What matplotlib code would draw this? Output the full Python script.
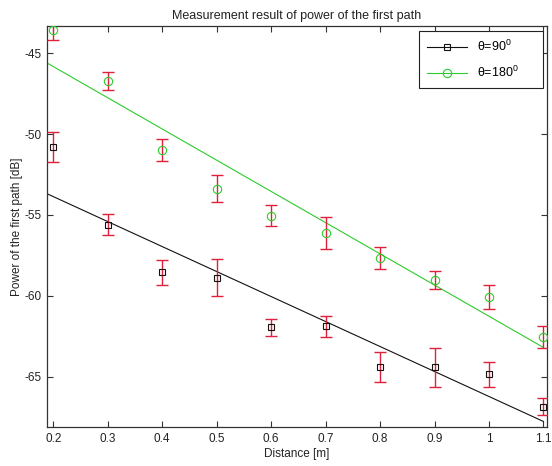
import numpy as np
import matplotlib
matplotlib.use("Agg")
import matplotlib.pyplot as plt
from matplotlib.lines import Line2D

plt.rcParams["font.family"] = ["Liberation Sans", "DejaVu Sans"]
plt.rcParams["mathtext.fontset"] = "custom"
plt.rcParams["mathtext.rm"] = "Liberation Sans"
plt.rcParams["axes.unicode_minus"] = False

# 数据:距离 (m),两组角度的第一径功率 (dB) 及误差
distance = [0.2, 0.3, 0.4, 0.5, 0.6, 0.7, 0.8, 0.9, 1.0, 1.1]
power_90 = [-50.79, -55.62, -58.55, -58.88, -61.96, -61.90, -64.38, -64.42, -64.86, -66.86]
err_90 = [0.92, 0.65, 0.78, 1.15, 0.54, 0.65, 0.93, 1.2, 0.77, 0.54]
power_180 = [-43.55, -46.71, -50.99, -53.37, -55.06, -56.12, -57.64, -59.01, -60.08, -62.56]
err_180 = [0.65, 0.55, 0.66, 0.83, 0.65, 0.98, 0.68, 0.55, 0.72, 0.70]

xticks = [0.2, 0.3, 0.4, 0.5, 0.6, 0.7, 0.8, 0.9, 1.0, 1.1]
xticklabels = ["0.2", "0.3", "0.4", "0.5", "0.6", "0.7", "0.8", "0.9", "1", "1.1"]
yticks = [-65, -60, -55, -50, -45]

BLACK = "#111111"
GREEN = "#2ccc2c"
RED = "#e0203a"
XLIM = (0.189, 1.106)
YLIM = (-68.14, -43.29)

fig = plt.figure(figsize=(5.52, 4.66), dpi=100)
ax = fig.add_axes([47.3 / 552, 1 - 427.3 / 466, 499.4 / 552, 401.6 / 466])

x = np.asarray(distance)
xfit = np.linspace(XLIM[0], 1.1, 50)
for ys, es, col, mk, ms in [(power_90, err_90, BLACK, "s", 4.6),
                             (power_180, err_180, GREEN, "o", 6.0)]:
    ys = np.asarray(ys)
    k, b = np.polyfit(x, ys, 1)                      # 线性拟合
    ax.plot(xfit, k * xfit + b, color=col, lw=0.8, zorder=2)
    ax.errorbar(x, ys, yerr=es, fmt="none", ecolor=RED, elinewidth=1.0,
                capsize=4.4, capthick=1.0, zorder=3)
    ax.plot(x, ys, ls="none", marker=mk, ms=ms, mfc="none", mec=col, mew=0.8, zorder=4)

ax.set_xlim(*XLIM)
ax.set_ylim(*YLIM)
ax.set_xticks(xticks)
ax.set_xticklabels(xticklabels)
ax.set_yticks(yticks)
ax.tick_params(direction="in", top=True, right=True, length=4, width=0.8,
               labelsize=8.5, colors="#333333", labelcolor="#222222", pad=4)
for s in ax.spines.values():
    s.set_color("#333333")
    s.set_linewidth(0.9)

ax.set_title("Measurement result of power of the first path", fontsize=9,
             color="#222222", pad=5)
ax.set_xlabel("Distance [m]", fontsize=8.5, color="#222222", labelpad=2)
ax.set_ylabel("Power of the first path [dB]", fontsize=8.5, color="#222222", labelpad=1.5)

handles = [Line2D([], [], color=BLACK, lw=0.8, marker="s", ms=4.6, mfc="none", mec=BLACK, mew=0.8),
           Line2D([], [], color=GREEN, lw=0.8, marker="o", ms=6.0, mfc="none", mec=GREEN, mew=0.8)]
# 图例框拉宽到参考图的尺寸(右侧留白)
leg = ax.legend(handles, [r"θ=90$^0$", r"θ=180$^0$"], loc="upper left",
                bbox_to_anchor=(0.744, 0.0, 0.2486, 0.9868), mode="expand",
                fontsize=9, fancybox=False, framealpha=1, edgecolor="#222222",
                handlelength=3.2, borderpad=0.65, labelspacing=0.85,
                handletextpad=0.8, borderaxespad=0.0)
leg.get_frame().set_linewidth(0.8)

fig.savefig("out.png", dpi=100)
